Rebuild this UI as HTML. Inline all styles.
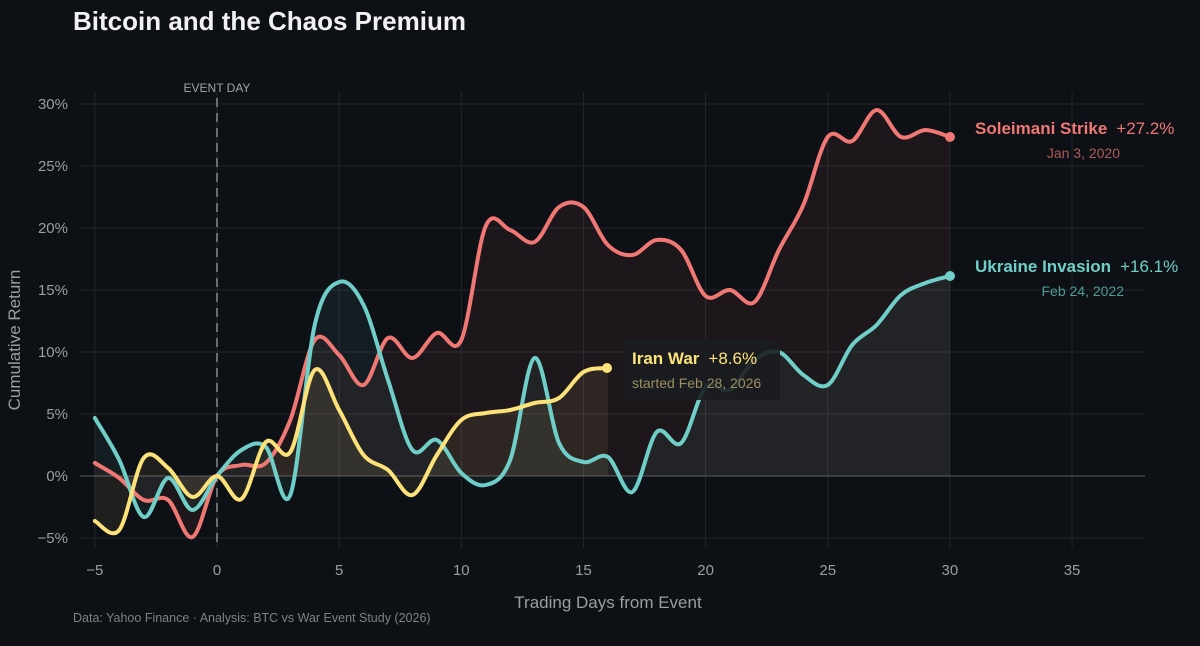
<!DOCTYPE html>
<html><head><meta charset="utf-8"><style>
html,body{margin:0;padding:0;background:#0d1015;}
svg{display:block;font-family:"Liberation Sans",sans-serif;}
</style></head><body>
<svg id="s" width="1200" height="646" viewBox="0 0 1200 646">
<rect width="1200" height="646" fill="#0d1015"/>
<text x="73" y="30" font-size="26" font-weight="bold" fill="#f2f2f2">Bitcoin and the Chaos Premium</text>
<g id="grid" stroke="#23272d" stroke-width="1"></g>
<line x1="80" y1="476" x2="1145" y2="476" stroke="#4a4d52" stroke-width="1.2"/>
<line x1="217" y1="98" x2="217" y2="545" stroke="#8a8d92" stroke-width="1.5" stroke-dasharray="9,6"/>
<text x="217" y="92" font-size="12" fill="#a0a3a8" text-anchor="middle">EVENT DAY</text>
<g id="fills"></g>
<g id="lines" fill="none" stroke-width="4" stroke-linecap="round" stroke-linejoin="round"></g>
<g id="ticks" font-size="15" fill="#9a9da2"></g>
<text x="608" y="608" font-size="17" fill="#9a9da2" text-anchor="middle">Trading Days from Event</text>
<text transform="translate(20,340) rotate(-90)" font-size="17" fill="#9a9da2" text-anchor="middle">Cumulative Return</text>
<text x="73" y="622" font-size="12.5" fill="#7d8085">Data: Yahoo Finance  ·  Analysis: BTC vs War Event Study (2026)</text>
<circle cx="950" cy="137" r="5" fill="#f07874"/>
<circle cx="950" cy="276" r="5" fill="#6fcfc8"/>
<circle cx="607" cy="368" r="5" fill="#fde27a"/>
<text x="975" y="134" font-size="17" fill="#f07874"><tspan font-weight="bold">Soleimani Strike</tspan><tspan dx="9">+27.2%</tspan></text>
<text x="1120" y="158" font-size="14" fill="#b05c5a" text-anchor="end">Jan 3, 2020</text>
<text x="975" y="272" font-size="17" fill="#6fcfc8"><tspan font-weight="bold">Ukraine Invasion</tspan><tspan dx="9">+16.1%</tspan></text>
<text x="1124" y="296" font-size="14" fill="#4f9a95" text-anchor="end">Feb 24, 2022</text>
<rect x="624" y="340" width="156" height="60" fill="#1a1c1f" opacity="0.9"/>
<text x="632" y="364" font-size="17" fill="#fde27a"><tspan font-weight="bold">Iran War</tspan><tspan dx="9">+8.6%</tspan></text>
<text x="632" y="388" font-size="14" fill="#9a8f62">started Feb 28, 2026</text>
</svg>
<script>
var ns="http://www.w3.org/2000/svg";
function X(d){return 217+d*24.43;}
function el(p,t,a){var e=document.createElementNS(ns,t);for(var k in a)e.setAttribute(k,a[k]);document.getElementById(p).appendChild(e);return e;}
for(var d=-5;d<=35;d+=5){el("grid","line",{x1:X(d),y1:92,x2:X(d),y2:548});var t=el("ticks","text",{x:X(d),y:575,"text-anchor":"middle"});t.textContent=(d<0?"\u2212"+(-d):d);}
for(var p=-5;p<=30;p+=5){var y=476-p*12.4;el("grid","line",{x1:80,y1:y,x2:1145,y2:y});var t=el("ticks","text",{x:68,y:y+5,"text-anchor":"end"});t.textContent=(p<0?"\u2212"+(-p):p)+"%";}
var red=[463,478,500,500,537,476,465,463,420,340,355,385,338,358,333,340,226,230,242,207,207,245,255,240,250,296,290,302,250,205,137,141,110,137,130,137];
var cyan=[418,460,517,478,510,476,450,447,495,325,282,305,380,450,440,473,485,460,358,443,462,457,492,432,443,387,390,355,375,385,345,325,295,283,276];
cyan=[418,460,517,478,510,476,450,447,495,325,282,305,380,450,440,473,485,460,358,443,462,457,492,432,443,387,390,360,352,375,385,345,325,295,283,276];
var yel=[521,530,458,468,497,476,499,442,452,370,410,455,470,495,455,420,413,410,403,398,372,368];
function path(a){var pts=a.map(function(v,i){return [X(i-5),v];});var s="M"+pts[0][0]+","+pts[0][1];
for(var i=0;i<pts.length-1;i++){var p0=pts[Math.max(0,i-1)],p1=pts[i],p2=pts[i+1],p3=pts[Math.min(pts.length-1,i+2)];
s+=" C"+(p1[0]+(p2[0]-p0[0])/6)+","+(p1[1]+(p2[1]-p0[1])/6)+" "+(p2[0]-(p3[0]-p1[0])/6)+","+(p2[1]-(p3[1]-p1[1])/6)+" "+p2[0]+","+p2[1];}
return s;}
function series(a,c,op){var p=path(a);var n=a.length-1;
el("fills","path",{d:p+" L"+X(n-5)+",476 L"+X(-5)+",476 Z",fill:c,opacity:op});
el("lines","path",{d:p,stroke:c});}
series(red.slice(0,36),"#f07874",0.07);
series(cyan.slice(0,36),"#6fcfc8",0.07);
series(yel,"#fde27a",0.08);
</script>
</body></html>
